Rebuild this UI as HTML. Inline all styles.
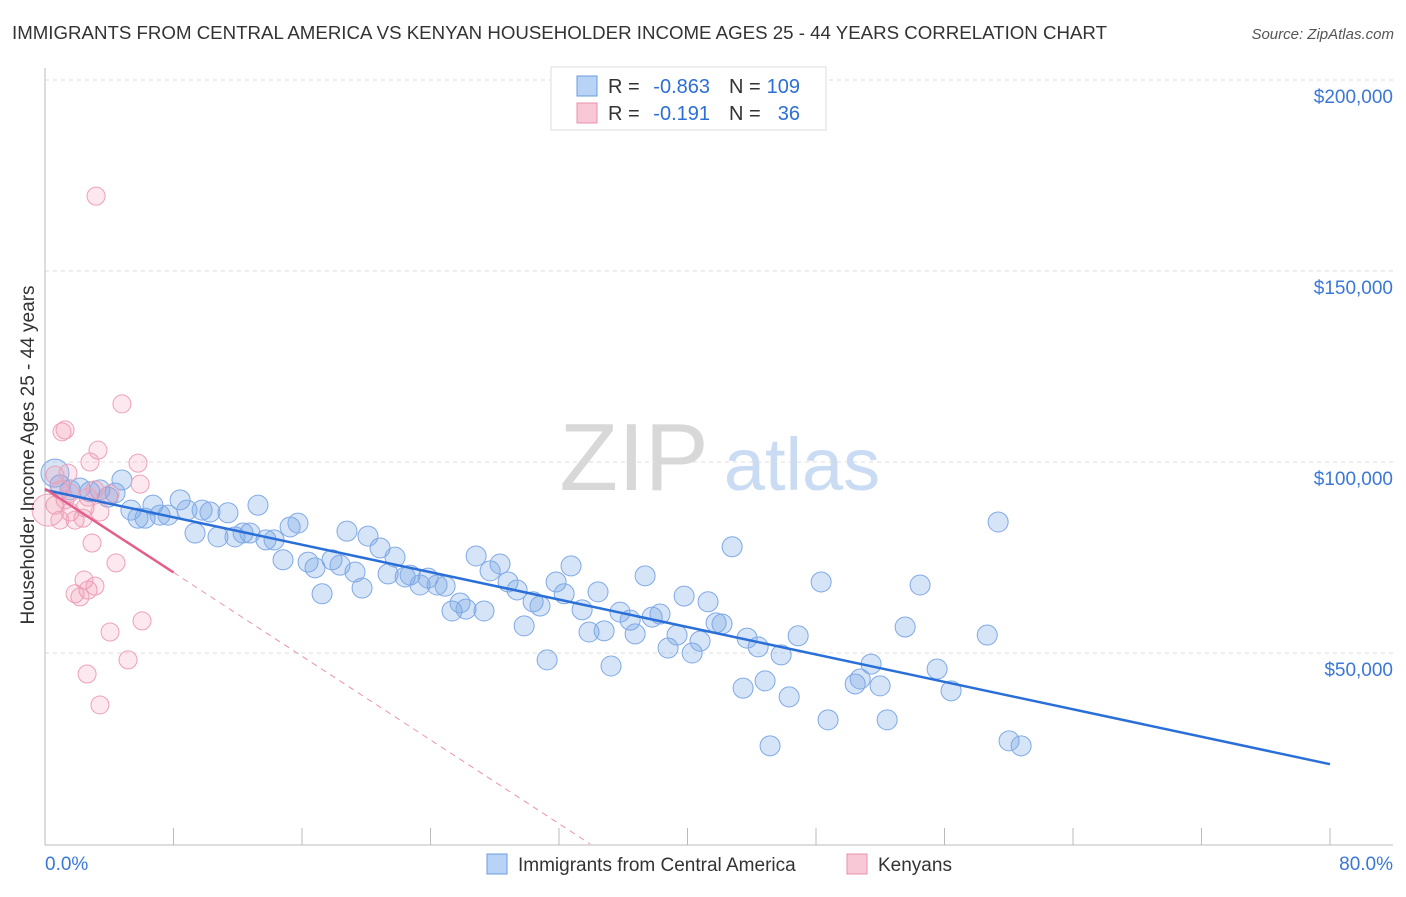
<!DOCTYPE html>
<html><head><meta charset="utf-8"><style>
body{margin:0;background:#fff;font-family:"Liberation Sans",sans-serif}
svg text{font-family:"Liberation Sans",sans-serif}
</style></head><body>
<svg id="c" width="1406" height="892">
<text x="12" y="39" font-size="18" fill="#333" textLength="1095" lengthAdjust="spacingAndGlyphs">IMMIGRANTS FROM CENTRAL AMERICA VS KENYAN HOUSEHOLDER INCOME AGES 25 - 44 YEARS CORRELATION CHART</text>
<text x="1394" y="39" font-size="15" fill="#555" font-style="italic" text-anchor="end">Source: ZipAtlas.com</text>
<g><text x="634" y="490" font-size="96" fill="#d8d8d8" font-family="Liberation Serif" text-anchor="middle">ZIP</text><text x="802" y="490" font-size="74" fill="#c9dcf3" text-anchor="middle">atlas</text></g>
<g id="grid"></g><g id="axes"></g><g id="pts"></g><g id="trend"></g>
<text transform="translate(34,455) rotate(-90)" font-size="19" fill="#333" text-anchor="middle">Householder Income Ages 25 - 44 years</text>
<g>
<rect x="551" y="67" width="275" height="63" fill="#fff" stroke="#ddd"/>
<rect x="577" y="76" width="20" height="20" fill="#b8d3f5" stroke="#6a9de0"/>
<rect x="577" y="103" width="20" height="20" fill="#f9c8d6" stroke="#e890ab"/>
<text x="608" y="93" font-size="20" fill="#333">R =</text>
<text x="710" y="93" font-size="20" fill="#2c6fd6" text-anchor="end">-0.863</text>
<text x="729" y="93" font-size="20" fill="#333">N =</text>
<text x="800" y="93" font-size="20" fill="#2c6fd6" text-anchor="end">109</text>
<text x="608" y="120" font-size="20" fill="#333">R =</text>
<text x="710" y="120" font-size="20" fill="#2c6fd6" text-anchor="end">-0.191</text>
<text x="729" y="120" font-size="20" fill="#333">N =</text>
<text x="800" y="120" font-size="20" fill="#2c6fd6" text-anchor="end">36</text>
</g>
<g>
<rect x="487" y="854" width="20" height="20" fill="#b8d3f5" stroke="#6a9de0"/>
<text x="518" y="871" font-size="19" fill="#333">Immigrants from Central America</text>
<rect x="847" y="854" width="20" height="20" fill="#f9c8d6" stroke="#e890ab"/>
<text x="878" y="871" font-size="19" fill="#333">Kenyans</text>
</g>
</svg>
<script>
const xTicks=[0,8,16,24,32,40,48,56,64,72,80];
const yTicks=[50000,100000,150000,200000];
const yTickLabels=["$50,000","$100,000","$150,000","$200,000"];
const blueX=[0.62,0.93,1.56,2.18,2.80,3.42,3.92,4.36,4.79,5.35,5.79,6.23,6.72,7.16,7.66,8.41,8.84,9.34,9.78,10.27,10.77,11.39,11.83,12.33,12.76,13.26,13.76,14.26,14.82,15.26,15.75,16.38,16.81,17.25,17.87,18.37,18.80,19.30,19.74,20.11,20.86,21.36,21.79,22.42,22.73,23.35,23.85,24.41,24.91,25.34,25.84,26.21,26.84,27.33,27.71,28.33,28.83,29.39,29.83,30.39,30.82,31.26,31.82,32.32,32.75,33.44,33.87,34.43,34.81,35.24,35.80,36.43,36.74,37.36,37.80,38.29,38.79,39.35,39.79,40.29,40.78,41.28,41.78,42.15,42.78,43.46,43.71,44.40,44.83,45.14,45.83,46.33,46.89,48.32,48.75,50.44,50.75,51.43,51.99,52.43,53.55,54.48,55.54,56.41,58.66,59.34,60.02,60.77];
const blueY=[97.1,94.0,92.7,93.2,92.2,92.7,90.8,91.9,95.3,87.4,85.3,85.3,88.7,86.1,86.1,90.1,87.4,81.4,87.4,86.9,80.4,86.7,80.4,81.4,81.4,88.7,79.6,79.6,74.4,83.0,84.0,73.8,72.3,65.5,74.4,73.0,81.9,71.2,67.0,80.6,77.5,70.7,75.1,69.9,70.4,67.8,69.6,67.8,67.5,61.0,63.1,61.5,75.4,61.0,71.5,73.3,68.6,66.5,57.1,63.4,62.3,48.2,68.6,65.5,72.8,61.3,55.5,66.0,55.8,46.6,60.7,58.6,55.0,70.2,59.4,60.2,51.3,54.7,64.9,50.0,53.1,63.4,57.9,57.6,77.8,40.8,53.9,51.6,42.7,25.7,49.5,38.5,54.5,68.6,32.5,41.9,43.2,47.1,41.4,32.5,56.8,67.8,45.8,40.1,54.7,84.3,27.0,25.7];
const pinkX=[0.62,0.93,1.25,0.62,0.19,1.56,1.06,1.25,1.43,1.87,2.49,2.80,3.30,3.18,4.79,5.79,5.92,2.93,2.43,2.68,1.87,2.18,3.11,4.42,4.05,6.04,5.17,2.62,3.42,1.56,2.37,0.93,3.42,4.05,3.11,2.68];
const pinkY=[96.6,92.7,90.1,88.7,87.4,91.9,107.9,108.4,97.1,84.8,88.0,100.0,103.1,169.6,115.2,99.7,94.2,78.8,69.1,66.5,65.5,64.7,67.5,73.6,55.5,58.4,48.2,44.5,36.4,86.9,85.3,84.8,86.9,91.6,92.7,90.8];
const blueTrend=[92.7,-0.8975];
const pinkTrend=[93.0,-2.74];
const NS="http://www.w3.org/2000/svg";
const X=p=>45+p*(1330-45)/80, Y=v=>844-v*191/50000;
function mk(t,a,p){const e=document.createElementNS(NS,t);for(const k in a)e.setAttribute(k,a[k]);document.getElementById(p).appendChild(e);return e;}
yTicks.forEach((v,i)=>{
 const l=mk('line',{x1:45,x2:1393,y1:Y(v),y2:Y(v),stroke:'#ddd','stroke-dasharray':'4,4'},'grid');
 
 
 const t=mk('text',{x:1393,y:Y(v)+23,'font-size':19,fill:'#3a78d8','text-anchor':'end'},'grid');t.textContent=yTickLabels[i];
 
 
});
mk('line',{x1:45,x2:45,y1:68,y2:845,stroke:'#bbb'},'axes');
mk('line',{x1:45,x2:1393,y1:845,y2:845,stroke:'#bbb'},'axes');
xTicks.forEach(p=>{const t=mk('line',{x1:X(p),x2:X(p),y1:828,y2:845,stroke:'#bbb'},'axes');
 
 });
const xl=mk('text',{x:45,y:870,'font-size':19,fill:'#3a78d8'},'axes');xl.textContent='0.0%';


const xr=mk('text',{x:1393,y:870,'font-size':19,fill:'#3a78d8','text-anchor':'end'},'axes');xr.textContent='80.0%';


blueX.forEach((x,i)=>{const c=mk('circle',{cx:X(x),cy:Y(blueY[i]*1000),r:i==0?14:10,fill:'rgba(120,165,230,0.3)',stroke:'#7fa9e6','stroke-width':1},'pts');
 
 });
pinkX.forEach((x,i)=>{const c=mk('circle',{cx:X(x),cy:Y(pinkY[i]*1000),r:i==4?16:9,fill:'rgba(240,150,178,0.22)',stroke:'#eea0b8','stroke-width':1},'pts');
 
 });
const bt=mk('line',{x1:X(0),y1:Y(blueTrend[0]*1000),x2:X(80),y2:Y((blueTrend[0]+80*blueTrend[1])*1000),stroke:'#2a6fd8','stroke-width':2.5},'trend');


const pe=-pinkTrend[0]/pinkTrend[1];
const pt=mk('line',{x1:X(0),y1:Y(pinkTrend[0]*1000),x2:X(8),y2:Y((pinkTrend[0]+8*pinkTrend[1])*1000),stroke:'#e4608c','stroke-width':2.5},'trend');


const pd=mk('line',{x1:X(8),y1:Y((pinkTrend[0]+8*pinkTrend[1])*1000),x2:X(pe),y2:Y(0),stroke:'#eb93ae','stroke-width':1,'stroke-dasharray':'6,5'},'trend');


</script>
</body></html>
